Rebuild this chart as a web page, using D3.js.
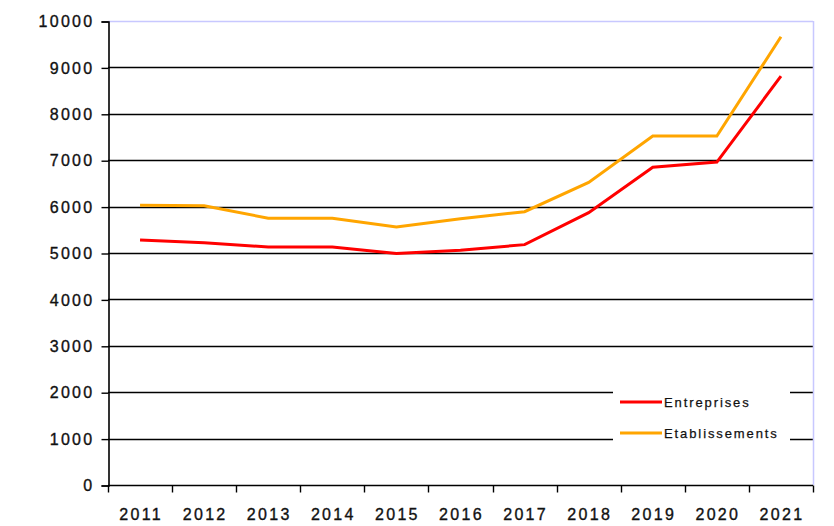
<!DOCTYPE html>
<html>
<head>
<meta charset="utf-8">
<script src="https://cdn.jsdelivr.net/npm/d3@7"></script>
<style>
  html, body { margin: 0; padding: 0; background: #fff; }
  svg { display: block; }
  text { font-family: "Liberation Sans", Arial, sans-serif; }
</style>
</head>
<body>
<svg id="chart" width="834" height="526"></svg>
<script>
const years = ["2011","2012","2013","2014","2015","2016","2017","2018","2019","2020","2021"];
const entreprises = [5280, 5220, 5130, 5130, 4990, 5060, 5180, 5870, 6850, 6960, 8810];
const etablissements = [6030, 6020, 5750, 5750, 5560, 5740, 5890, 6520, 7520, 7520, 9660];
const yTicks = [0, 1000, 2000, 3000, 4000, 5000, 6000, 7000, 8000, 9000, 10000];
const seriesNames = ["Entreprises", "Etablissements"];
const seriesColors = ["#ff0000", "#ffa500"];

const svg = d3.select("#chart");
const pLeft = 108, pRight = 813, pTop = 21, pBottom = 485;

const x = d3.scaleBand().domain(years).range([pLeft, pRight]).padding(0);
const y = d3.scaleLinear().domain([0, 10000]).range([pBottom, pTop]);

// gridlines
svg.append("g").selectAll("line").data(yTicks.filter(d => d > 0)).join("line")
  .attr("x1", pLeft).attr("x2", pRight)
  .attr("y1", d => Math.round(y(d)) + 0.5).attr("y2", d => Math.round(y(d)) + 0.5)
  .attr("stroke", d => d === 10000 ? "#c8c8ff" : "#000")
  .attr("stroke-width", d => d === 10000 ? 1.5 : 1.4);

// right border
svg.append("line").attr("x1", pRight + 0.5).attr("x2", pRight + 0.5)
  .attr("y1", pTop).attr("y2", pBottom).attr("stroke", "#c8c8ff").attr("stroke-width", 1.5);

// y axis
const yAxis = d3.axisLeft(y).tickValues(yTicks).tickSize(7).tickPadding(10).tickFormat(d3.format("d"));
const gy = svg.append("g").attr("transform", `translate(${pLeft + 0.5},0.5)`).call(yAxis);
gy.select(".domain").attr("stroke", "#000").attr("stroke-width", 1.6);
gy.selectAll(".tick line").attr("stroke", "#000").attr("stroke-width", 1.4);
gy.selectAll(".tick text").attr("font-size", 16).attr("fill", "#111")
  .attr("stroke", "#111").attr("stroke-width", 0.35)
  .attr("font-family", "Liberation Sans, Arial, sans-serif")
  .style("letter-spacing", "2.3px").attr("dx", 3);

// x axis
const gx = svg.append("g").attr("transform", `translate(0,${pBottom + 0.5})`);
gx.append("line").attr("x1", pLeft).attr("x2", pRight).attr("stroke", "#000").attr("stroke-width", 1.6);
const bounds = years.map(d => x(d)).concat([pRight]);
gx.selectAll("line.tk").data(bounds).join("line").attr("class", "tk")
  .attr("x1", d => Math.round(d) + 0.5).attr("x2", d => Math.round(d) + 0.5)
  .attr("y1", 0).attr("y2", 7).attr("stroke", "#000").attr("stroke-width", 1.4);
gx.selectAll("text").data(years).join("text")
  .attr("x", d => x(d) + x.bandwidth() / 2 + 1)
  .attr("y", 34)
  .attr("text-anchor", "middle")
  .attr("font-size", 16).attr("fill", "#111")
  .attr("stroke", "#111").attr("stroke-width", 0.35)
  .style("letter-spacing", "2.3px")
  .text(d => d);

// legend background
const legend = svg.append("g");
legend.append("rect").attr("x", 613).attr("y", 384).attr("width", 177).attr("height", 66).attr("fill", "#fff");

// series lines
const line = d3.line().x((d, i) => x(years[i]) + x.bandwidth() / 2).y(d => y(d));
[entreprises, etablissements].forEach((vals, k) => {
  svg.append("path").datum(vals).attr("d", line)
    .attr("fill", "none").attr("stroke", seriesColors[k]).attr("stroke-width", 3)
    .attr("stroke-linejoin", "miter");
});

// legend items
const ly = [402, 433];
seriesNames.forEach((name, k) => {
  legend.append("line").attr("x1", 620).attr("x2", 662).attr("y1", ly[k]).attr("y2", ly[k])
    .attr("stroke", seriesColors[k]).attr("stroke-width", 3);
  legend.append("text").attr("x", 664).attr("y", ly[k] + 5)
    .attr("font-size", 13).attr("fill", "#111")
    .attr("stroke", "#111").attr("stroke-width", 0.25)
    .style("letter-spacing", "1.9px")
    .text(name);
});
</script>
</body>
</html>
